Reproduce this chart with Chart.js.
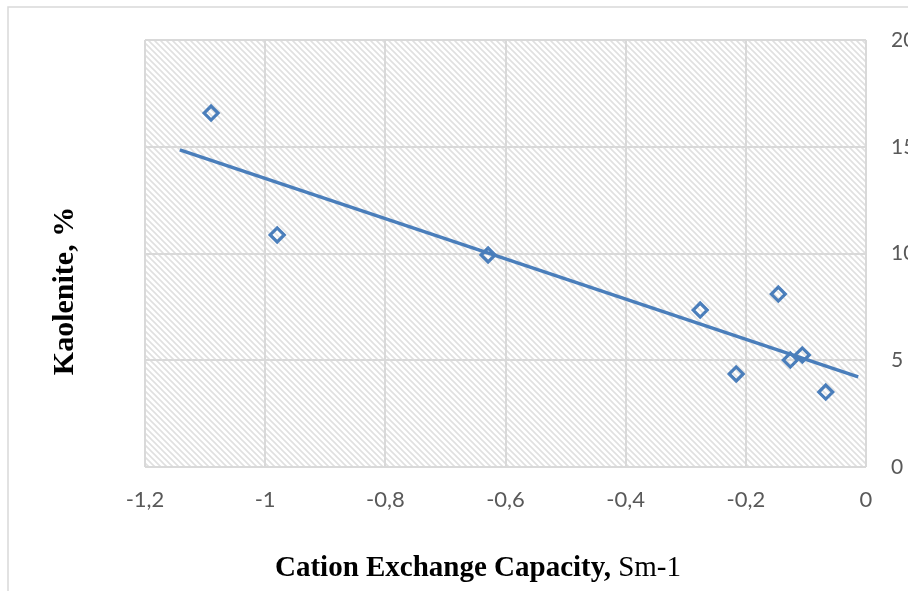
<!DOCTYPE html>
<html>
<head>
<meta charset="utf-8">
<script src="https://cdn.jsdelivr.net/npm/chart.js@4"></script>
<style>
  html, body { margin: 0; padding: 0; background: #fff; overflow: hidden; }
  #wrap { width: 908px; height: 591px; overflow: hidden; position: relative; }
</style>
</head>
<body>
<div id="wrap"><canvas id="myChart" width="940" height="591"></canvas></div>
<script>
'use strict';
// cation exchange capacity (x) and kaolenite % (y)
var cecValues = [-1.09, -0.98, -0.629, -0.276, -0.216, -0.146, -0.126, -0.106, -0.067];
var kaolValues = [16.58, 10.87, 9.93, 7.35, 4.36, 8.1, 5.01, 5.25, 3.51];
// linear trendline ends, as drawn
var trendX = [-1.142, -0.013];
var trendY = [14.85, 4.22];
var xTicks = [-1.2, -1, -0.8, -0.6, -0.4, -0.2, 0];
var yTicks = [0, 5, 10, 15, 20];

var blue = '#4a7ebb';
var gridColor = '#d9d9d9';

function toPoints(xs, ys) {
  var pts = [];
  for (var i = 0; i < xs.length; i++) {
    pts.push({x: xs[i], y: ys[i]});
  }
  return pts;
}

function makeHatch() {
  var n = 6;
  var c = document.createElement('canvas');
  c.width = n; c.height = n;
  var g = c.getContext('2d');
  g.fillStyle = '#fff';
  g.fillRect(0, 0, n, n);
  g.strokeStyle = '#e0e0e0';
  g.lineWidth = 1.6;
  g.beginPath();
  g.moveTo(-1, -1); g.lineTo(n + 1, n + 1);
  g.moveTo(-1, n - 1); g.lineTo(1, n + 1);
  g.moveTo(n - 1, -1); g.lineTo(n + 1, 1);
  g.stroke();
  return g.createPattern(c, 'repeat');
}

var backdrop = {
  id: 'backdrop',
  beforeDraw: function(chart) {
    var ctx = chart.ctx, a = chart.chartArea;
    ctx.save();
    ctx.fillStyle = '#fff';
    ctx.fillRect(0, 0, chart.width, chart.height);
    ctx.strokeStyle = gridColor;
    ctx.lineWidth = 1.5;
    ctx.strokeRect(8, 7, chart.width + 20, chart.height + 20);
    ctx.fillStyle = makeHatch();
    ctx.fillRect(a.left, a.top, a.right - a.left, a.bottom - a.top);
    ctx.restore();
  },
  afterDraw: function(chart) {
    var ctx = chart.ctx;
    ctx.save();
    ctx.fillStyle = '#000';
    ctx.textBaseline = 'alphabetic';
    // x title, bold part + normal part
    var boldPart = 'Cation Exchange Capacity,';
    var normPart = ' Sm-1';
    ctx.font = 'bold 29px "Liberation Serif"';
    var w1 = ctx.measureText(boldPart).width;
    ctx.font = '29px "Liberation Serif"';
    var w2 = ctx.measureText(normPart).width;
    var sx = 478 - (w1 + w2) / 2;
    ctx.font = 'bold 29px "Liberation Serif"';
    ctx.textAlign = 'left';
    ctx.fillText(boldPart, sx, 576);
    ctx.font = '29px "Liberation Serif"';
    ctx.fillText(normPart, sx + w1, 576);
    // y title
    ctx.translate(73, 291);
    ctx.rotate(-Math.PI / 2);
    ctx.textAlign = 'center';
    ctx.font = 'bold 30px "Liberation Serif"';
    ctx.fillText('Kaolenite, %', 0, 0);
    ctx.restore();
  }
};

var ctx = document.getElementById('myChart').getContext('2d');
var chart = new Chart(ctx, {
  type: 'scatter',
  data: {
    datasets: [{
      label: 'Kaolenite',
      data: toPoints(cecValues, kaolValues),
      pointStyle: 'rectRot',
      pointRadius: 7,
      pointBorderWidth: 3.2,
      borderColor: blue,
      backgroundColor: 'rgba(0,0,0,0)',
      order: 1
    }, {
      label: 'Trend',
      data: toPoints(trendX, trendY),
      showLine: true,
      pointRadius: 0,
      borderWidth: 3.5,
      borderColor: blue,
      order: 2
    }]
  },
  options: {
    responsive: false,
    animation: false,
    layout: { padding: { left: 145, top: 40, right: 0, bottom: 0 } },
    plugins: { legend: { display: false }, tooltip: { enabled: false } },
    scales: {
      x: {
        type: 'linear',
        min: -1.2, max: 0,
        afterBuildTicks: function(s) { s.ticks = xTicks.map(function(v){ return {value: v}; }); },
        afterFit: function(s) { s.height = 124; },
        grid: { color: gridColor, lineWidth: 2, drawTicks: false },
        border: { display: false },
        ticks: {
          padding: 20,
          color: '#595959',
          font: { family: 'Lato', size: 22 },
          callback: function(v) { return String(Math.round(v * 10) / 10).replace('.', ','); }
        }
      },
      y: {
        position: 'right',
        min: 0, max: 20,
        afterBuildTicks: function(s) { s.ticks = yTicks.map(function(v){ return {value: v}; }); },
        afterFit: function(s) { s.width = 74; },
        grid: { color: gridColor, lineWidth: 2, drawTicks: false },
        border: { display: false },
        ticks: {
          padding: 25,
          color: '#595959',
          font: { family: 'Lato', size: 21 }
        }
      }
    }
  },
  plugins: [backdrop]
});
</script>
</body>
</html>
